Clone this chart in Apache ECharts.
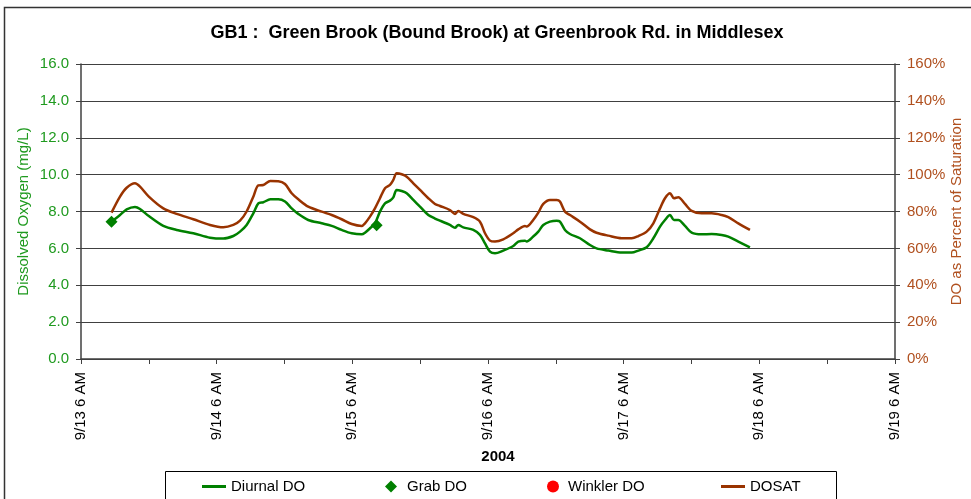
<!DOCTYPE html>
<html>
<head>
<meta charset="utf-8">
<script src="https://cdn.jsdelivr.net/npm/echarts@6/dist/echarts.min.js"></script>
<style>
html,body{margin:0;padding:0;background:#fff;overflow:hidden;}
#chart{width:971px;height:499px;}
</style>
</head>
<body>
<div id="chart"></div>
<script>
// Hours since 9/13 6 AM
const hours = [5.4, 6.9, 8.08, 9.55, 10.44, 12.0, 14.56, 16.92, 19.87, 22.82, 25.18, 26.95, 28.13, 29.3, 30.48, 31.37, 32.25,
  33.5, 34.9, 36.09, 37.27, 38.44, 40.2, 42.58, 44.35, 46.11, 47.89, 49.65, 50.24, 51.12, 52.0, 52.89, 53.78, 54.66, 55.25, 55.84,
  56.73, 57.62, 58.79, 59.97, 61.44, 62.62, 63.5, 65.27, 66.16, 66.74, 67.63, 69.4, 70.58, 71.47, 72.35, 73.24, 74.7, 76.47, 77.36,
  78.54, 78.84, 80.0, 80.9, 81.78, 82.96, 84.15, 84.73, 85.62, 86.5, 88.27, 90.04, 91.2, 93.29, 95.65, 97.42, 98.6, 100.07,
  101.25, 102.43, 103.31, 104.2, 104.9, 105.67, 106.85, 108.03, 109.8, 111.57, 113.34, 114.51, 116.28, 118.34];
const diurnalDO = [7.45, 7.81, 8.12, 8.25, 8.14, 7.75, 7.22, 7.00, 6.82, 6.58, 6.53, 6.67, 6.91, 7.27, 7.90, 8.44, 8.50,
  8.66, 8.66, 8.54, 8.17, 7.87, 7.54, 7.36, 7.22, 7.00, 6.82, 6.76, 6.85, 7.09, 7.35, 7.99, 8.44, 8.59, 8.77, 9.17,
  9.11, 8.99, 8.63, 8.26, 7.81, 7.62, 7.50, 7.27, 7.12, 7.27, 7.14, 7.00, 6.73, 6.27, 5.82, 5.73, 5.88, 6.13, 6.37,
  6.42, 6.37, 6.64, 6.91, 7.27, 7.45, 7.50, 7.45, 7.00, 6.78, 6.55, 6.18, 6.00, 5.88, 5.77, 5.77, 5.88, 6.06,
  6.55, 7.18, 7.54, 7.81, 7.54, 7.54, 7.22, 6.85, 6.76, 6.78, 6.73, 6.64, 6.37, 6.06];
const dosatPct = [79.4, 88.1, 92.9, 95.3, 93.5, 88.1, 81.7, 78.7, 75.8, 72.7, 71.4, 72.7, 75.0, 80.0, 88.0, 94.2, 94.4,
  96.5, 96.4, 94.9, 89.9, 86.6, 82.6, 79.9, 78.1, 75.8, 73.2, 72.2, 73.6, 77.2, 81.7, 87.2, 92.6, 94.4, 97.1, 100.7,
  100.2, 98.9, 95.3, 91.7, 87.2, 84.1, 83.0, 80.8, 78.7, 80.3, 78.7, 76.9, 74.5, 68.2, 64.2, 63.7, 64.9, 68.2, 70.3,
  72.2, 71.8, 75.4, 79.4, 84.1, 86.3, 86.3, 85.4, 79.9, 78.1, 74.5, 70.3, 68.5, 66.9, 65.5, 65.5, 66.7, 69.1,
  73.6, 81.7, 87.2, 89.9, 87.2, 87.7, 84.1, 80.3, 79.0, 79.0, 78.1, 76.9, 73.6, 70.0];
const grabHours = [5.4, 52.3];
const grabDO = [7.45, 7.25];
const winklerHours = [];
const winklerDO = [];
const xTickDays = ['9/13', '9/14', '9/15', '9/16', '9/17', '9/18', '9/19'];

const FONT = 'Liberation Sans, Arial, sans-serif';
const GREEN = '#008000';
const BROWN = '#993300';
const GREEN_TXT = '#1f9a1f';
const BROWN_TXT = '#b0501f';

const chart = echarts.init(document.getElementById('chart'));
const legendBase = {
  orient: 'horizontal', top: 474,
  textStyle: { fontFamily: FONT, fontSize: 15, color: '#000' }
};
chart.setOption({
  backgroundColor: '#fff',
  animation: false,
  title: {
    text: 'GB1 :  Green Brook (Bound Brook) at Greenbrook Rd. in Middlesex',
    left: 492, textAlign: 'center', top: 19,
    textStyle: { fontFamily: FONT, fontSize: 18, fontWeight: 'bold', color: '#000' }
  },
  grid: { left: 81, right: 76, top: 64, bottom: 140, containLabel: false, outerBoundsMode: 'none' },
  xAxis: {
    type: 'value', min: 0, max: 144, interval: 12,
    name: '2004', nameLocation: 'middle', nameGap: 90, nameMoveOverlap: false,
    nameTextStyle: { fontFamily: FONT, fontSize: 15, fontWeight: 'bold', color: '#000', padding: [0, 0, 0, 20] },
    axisLine: { show: true, lineStyle: { color: '#404040', width: 1.5 } },
    axisTick: { show: true, length: 5, lineStyle: { color: '#404040' } },
    splitLine: { show: false },
    axisLabel: {
      rotate: 90, margin: 13, fontFamily: FONT, fontSize: 15, color: '#000',
      formatter: v => (v % 24 === 0) ? (xTickDays[v / 24] + ' 6 AM') : ''
    }
  },
  yAxis: [{
    type: 'value', min: 0, max: 16, interval: 2, position: 'left',
    name: 'Dissolved Oxygen (mg/L)', nameLocation: 'middle', nameGap: 50, nameMoveOverlap: false,
    nameTextStyle: { fontFamily: FONT, fontSize: 15, color: GREEN_TXT },
    axisLine: { show: true, lineStyle: { color: '#404040', width: 1.5 } },
    axisTick: { show: true, length: 5, lineStyle: { color: '#404040' } },
    splitLine: { show: true, lineStyle: { color: '#404040', width: 1 } },
    axisLabel: { margin: 12, fontFamily: FONT, fontSize: 15, color: GREEN_TXT, formatter: v => v.toFixed(1) }
  }, {
    type: 'value', min: 0, max: 160, interval: 20, position: 'right',
    name: 'DO as Percent of Saturation', nameLocation: 'middle', nameGap: 54, nameMoveOverlap: false,
    nameTextStyle: { fontFamily: FONT, fontSize: 15, color: BROWN_TXT },
    axisLine: { show: true, lineStyle: { color: '#404040', width: 1.5 } },
    axisTick: { show: true, length: 5, lineStyle: { color: '#404040' } },
    splitLine: { show: false },
    axisLabel: { margin: 12, fontFamily: FONT, fontSize: 15, color: BROWN_TXT, formatter: v => v + '%' }
  }],
  legend: [
    Object.assign({}, legendBase, { left: 197, itemWidth: 24, itemHeight: 3, data: [{ name: 'Diurnal DO', icon: 'rect' }] }),
    Object.assign({}, legendBase, { left: 380, itemWidth: 12, itemHeight: 12,
      textStyle: Object.assign({}, legendBase.textStyle, { padding: [0, 0, 0, 5] }),
      data: [{ name: 'Grab DO', icon: 'diamond' }] }),
    Object.assign({}, legendBase, { left: 542, itemWidth: 12, itemHeight: 12,
      textStyle: Object.assign({}, legendBase.textStyle, { padding: [0, 0, 0, 4] }),
      data: [{ name: 'Winkler DO', icon: 'circle' }] }),
    Object.assign({}, legendBase, { left: 716, itemWidth: 24, itemHeight: 3, data: [{ name: 'DOSAT', icon: 'rect' }] })
  ],
  graphic: [
    { type: 'rect', shape: { x: 4.5, y: 7.5, width: 1000, height: 600 }, style: { fill: 'none', stroke: '#333', lineWidth: 1.5 }, z: 0 },
    { type: 'rect', shape: { x: 165.5, y: 471.5, width: 671, height: 60 }, style: { fill: 'none', stroke: '#000', lineWidth: 1 }, z: 0 }
  ],
  series: [
    {
      name: 'Diurnal DO', type: 'line', yAxisIndex: 0, showSymbol: false, smooth: 0.3,
      lineStyle: { color: GREEN, width: 2.5 }, itemStyle: { color: GREEN },
      data: hours.map((h, i) => [h, diurnalDO[i]])
    },
    {
      name: 'Grab DO', type: 'scatter', yAxisIndex: 0, symbol: 'diamond', symbolSize: 12,
      itemStyle: { color: GREEN, opacity: 1 }, z: 5,
      data: grabHours.map((h, i) => [h, grabDO[i]])
    },
    {
      name: 'Winkler DO', type: 'scatter', yAxisIndex: 0, symbol: 'circle', symbolSize: 10,
      itemStyle: { color: '#ff0000', opacity: 1 },
      data: winklerHours.map((h, i) => [h, winklerDO[i]])
    },
    {
      name: 'DOSAT', type: 'line', yAxisIndex: 1, showSymbol: false, smooth: 0.3,
      lineStyle: { color: BROWN, width: 2.5 }, itemStyle: { color: BROWN },
      data: hours.map((h, i) => [h, dosatPct[i]])
    }
  ]
});
</script>
</body>
</html>
